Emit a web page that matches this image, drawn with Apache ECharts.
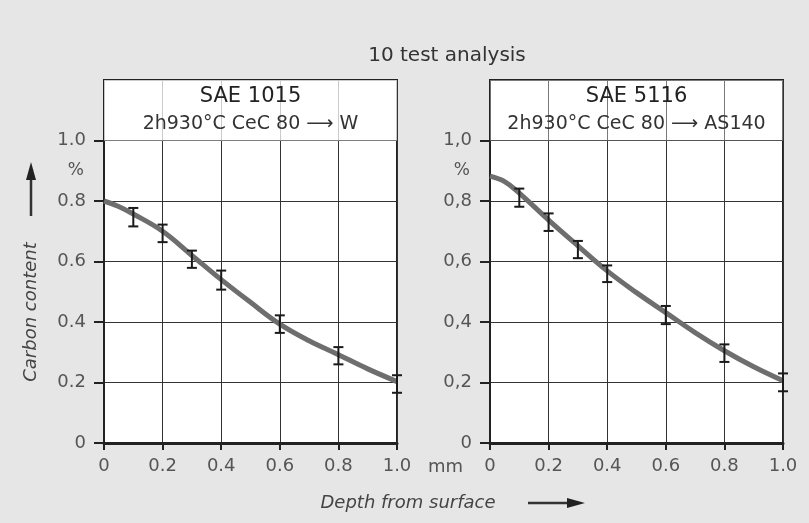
<!DOCTYPE html>
<html><head><meta charset="utf-8">
<script src="https://cdn.jsdelivr.net/npm/echarts@6/dist/echarts.min.js"></script>
<style>html,body{margin:0;padding:0;background:#e6e6e6}#c{width:809px;height:523px}</style>
</head><body><div id="c"></div>
<script>
// ---- data ----
const chartTitle = '10 test analysis';
const panelTitles = ['SAE 1015', 'SAE 5116'];
const panelSubtitles = ['2h930°C CeC 80 ⟶ W', '2h930°C CeC 80 ⟶ AS140'];
const xTickLabels = ['0', '0.2', '0.4', '0.6', '0.8', '1.0'];
const leftYLabels = ['0', '0.2', '0.4', '0.6', '0.8', '1.0'];
const rightYLabels = ['0', '0,2', '0,4', '0,6', '0,8', '1,0'];
const yUnit = '%';
const xUnit = 'mm';
const yName = 'Carbon content';
const xName = 'Depth from surface';

const curveDepth = [0, 0.05, 0.1, 0.2, 0.3, 0.4, 0.5, 0.6, 0.7, 0.8, 0.9, 1.0];
const sae1015Curve = [0.80, 0.782, 0.757, 0.70, 0.62, 0.54, 0.465, 0.393, 0.338, 0.292, 0.245, 0.203];
const sae5116Curve = [0.882, 0.864, 0.826, 0.737, 0.652, 0.569, 0.497, 0.431, 0.365, 0.305, 0.252, 0.206];

const errDepth = [0.1, 0.2, 0.3, 0.4, 0.6, 0.8, 1.0];
const sae1015Low = [0.716, 0.664, 0.579, 0.507, 0.364, 0.260, 0.166];
const sae1015High = [0.777, 0.722, 0.636, 0.570, 0.422, 0.317, 0.224];
const sae5116Low = [0.781, 0.701, 0.611, 0.532, 0.393, 0.268, 0.171];
const sae5116High = [0.841, 0.759, 0.668, 0.587, 0.453, 0.326, 0.230];

// ---- build ----
const FONT = '"DejaVu Sans", Verdana, sans-serif';
const BG = '#e6e6e6';
const labelColor = '#555';
const chart = echarts.init(document.getElementById('c'), null, {renderer: 'canvas'});

function pairs(xs, ys) { return xs.map((x, i) => [x, ys[i]]); }
function errData(xs, lo, hi) { return xs.map((x, i) => [x, lo[i], hi[i]]); }
function fmtFrom(labels) {
  return v => { const i = Math.round(v / 0.2); return (Math.abs(v - i * 0.2) < 1e-6 && labels[i] !== undefined) ? labels[i] : ''; };
}

const grids = [
  {left: 104, right: 412, top: 80, bottom: 80, show: true, backgroundColor: '#fff', borderColor: '#222', borderWidth: 2},
  {left: 490, right: 26, top: 80, bottom: 80, show: true, backgroundColor: '#fff', borderColor: '#222', borderWidth: 2}
];

function xAxis(gi) {
  return {
    type: 'value', gridIndex: gi, min: 0, max: 1.0, interval: 0.2,
    axisLine: {show: true, onZero: false, lineStyle: {color: '#222', width: 3}},
    axisTick: {show: true, inside: false, length: 7, lineStyle: {color: '#222', width: 2}},
    axisLabel: {color: labelColor, fontSize: 18, fontFamily: FONT, margin: 14, formatter: fmtFrom(xTickLabels), showMaxLabel: true, showMinLabel: true},
    splitLine: {show: true, lineStyle: {color: '#333', width: 1}}
  };
}
function yAxis(gi, labels) {
  return {
    type: 'value', gridIndex: gi, min: 0, max: 1.2, interval: 0.2, position: 'left',
    axisLine: {show: true, onZero: false, lineStyle: {color: '#222', width: 2}},
    axisTick: {show: true, inside: false, length: 10, lineStyle: {color: '#222', width: 2}},
    axisLabel: {color: labelColor, fontSize: 18, fontFamily: FONT, margin: 18, formatter: fmtFrom(labels)},
    splitLine: {show: true, lineStyle: {color: '#333', width: 1}}
  };
}
function unitAxis(gi) {
  return {
    type: 'value', gridIndex: gi, min: 0, max: 1.2, interval: 0.1, position: 'left', offset: 0,
    axisLine: {show: false}, axisTick: {show: false}, splitLine: {show: false},
    axisLabel: {color: labelColor, fontSize: 17, fontFamily: FONT, margin: 20,
      formatter: v => Math.abs(v - 0.9) < 1e-6 ? yUnit : ''}
  };
}

function curveSeries(idx, ys, title, sub, fade) {
  return {
    type: 'line', xAxisIndex: idx, yAxisIndex: idx * 2, data: pairs(curveDepth, ys),
    smooth: 0.4, showSymbol: false, symbol: 'none', z: 3,
    lineStyle: {color: '#6e6e6e', width: 5},
    markArea: {
      silent: true,
      itemStyle: {color: 'rgba(255,255,255,' + fade + ')'},
      label: {
        show: true, position: 'inside', fontFamily: FONT,
        formatter: '{a|' + title + '}\n{b|' + sub + '}',
        rich: {a: {fontSize: 21, lineHeight: 28, color: '#222', fontFamily: FONT},
               b: {fontSize: 19, lineHeight: 28, color: '#333', fontFamily: FONT}}
      },
      data: [[{yAxis: 1.0}, {yAxis: 1.2}]]
    }
  };
}
function errSeries(idx, data) {
  return {
    type: 'custom', xAxisIndex: idx, yAxisIndex: idx * 2, data: data, z: 5,
    encode: {x: 0, y: [1, 2]},
    renderItem: function (params, api) {
      const x = api.value(0);
      const p1 = api.coord([x, api.value(1)]);
      const p2 = api.coord([x, api.value(2)]);
      const w = 5;
      const st = {stroke: '#1a1a1a', lineWidth: 2};
      return {type: 'group', children: [
        {type: 'line', shape: {x1: p1[0], y1: p1[1], x2: p2[0], y2: p2[1]}, style: st},
        {type: 'line', shape: {x1: p1[0] - w, y1: p1[1], x2: p1[0] + w, y2: p1[1]}, style: st},
        {type: 'line', shape: {x1: p2[0] - w, y1: p2[1], x2: p2[0] + w, y2: p2[1]}, style: st}
      ]};
    }
  };
}

const option = {
  backgroundColor: BG,
  animation: false,
  grid: grids,
  xAxis: [xAxis(0), xAxis(1)],
  yAxis: [yAxis(0, leftYLabels), unitAxis(0), yAxis(1, rightYLabels), unitAxis(1)],
  series: [
    curveSeries(0, sae1015Curve, panelTitles[0], panelSubtitles[0], 0.75),
    errSeries(0, errData(errDepth, sae1015Low, sae1015High)),
    curveSeries(1, sae5116Curve, panelTitles[1], panelSubtitles[1], 0.35),
    errSeries(1, errData(errDepth, sae5116Low, sae5116High))
  ]
};
chart.setOption(option);

// decorations placed relative to the left panel's axis end
const axisEnd = chart.convertToPixel({xAxisIndex: 0, yAxisIndex: 0}, [1.0, 0]);
chart.setOption({
  graphic: [
    {type: 'rect', shape: {x: 90, y: 76, width: 13, height: 8}, style: {fill: BG}, z: 100},
    {type: 'rect', shape: {x: 476, y: 76, width: 13, height: 8}, style: {fill: BG}, z: 100},
    {type: 'text', x: axisEnd[0] + 31, y: axisEnd[1] + 24,
      style: {text: xUnit, fontSize: 18, fontFamily: FONT, fill: labelColor, align: 'left', verticalAlign: 'middle'}},
    {type: 'text', x: 447, y: 56, style: {text: chartTitle, fontSize: 20, fontFamily: FONT, fill: '#333', align: 'center', verticalAlign: 'middle'}},
    {type: 'text', x: 31, y: 312, rotation: Math.PI / 2,
      style: {text: yName, fontSize: 18, fontStyle: 'italic', fontFamily: FONT, fill: '#444', align: 'center', verticalAlign: 'middle'}},
    {type: 'line', shape: {x1: 31, y1: 216, x2: 31, y2: 176}, style: {stroke: '#333', lineWidth: 2.5}},
    {type: 'polygon', shape: {points: [[26, 180], [36, 180], [31, 162]]}, style: {fill: '#222'}},
    {type: 'text', x: 408, y: 503, style: {text: xName, fontSize: 18, fontStyle: 'italic', fontFamily: FONT, fill: '#444', align: 'center', verticalAlign: 'middle'}},
    {type: 'line', shape: {x1: 528, y1: 503, x2: 570, y2: 503}, style: {stroke: '#333', lineWidth: 2.5}},
    {type: 'polygon', shape: {points: [[567, 498], [567, 508], [585, 503]]}, style: {fill: '#222'}}
  ]
});
</script>
</body></html>
